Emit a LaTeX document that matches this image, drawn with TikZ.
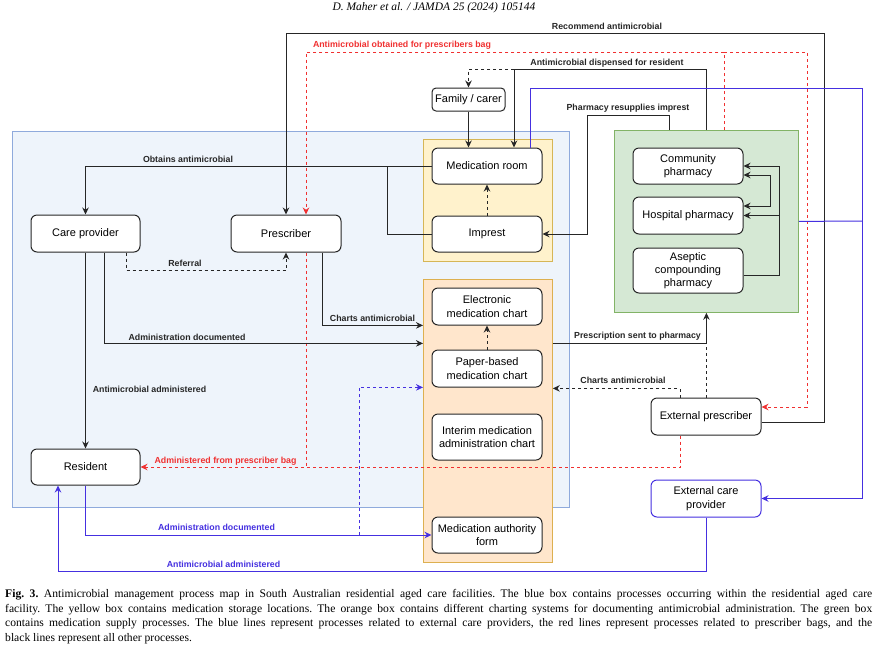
\documentclass[tikz,border=0pt]{standalone}
\usepackage{fontspec}
\setmainfont{Liberation Serif}
\newfontfamily\dsans{Liberation Sans}
\usetikzlibrary{arrows.meta}
\definecolor{bluefill}{HTML}{EEF4FB}
\definecolor{blueedge}{HTML}{8FAADC}
\definecolor{yelfill}{HTML}{FFF2CC}
\definecolor{yeledge}{HTML}{D6B656}
\definecolor{orfill}{HTML}{FFE6CC}
\definecolor{oredge}{HTML}{DDB050}
\definecolor{grfill}{HTML}{D5E8D4}
\definecolor{gredge}{HTML}{82B366}
\definecolor{redl}{HTML}{F03030}
\definecolor{bluel}{HTML}{4530E0}
\definecolor{blkl}{HTML}{262626}
\newcommand{\ndfont}{\dsans\fontsize{11}{13.3}\selectfont}
\newcommand{\lblfont}{\dsans\bfseries\fontsize{8.8}{10}\selectfont}
\newcommand{\capfont}{\frenchspacing\fontsize{11.6}{14.8}\selectfont}
\newcommand{\hdfont}{\itshape\fontsize{11.5}{13}\selectfont}
\begin{document}
\begin{tikzpicture}[x=1pt,y=-1pt,
  container/.style={draw, line width=0.8, inner sep=0, anchor=north west},
  pbox/.style={draw=blkl, fill=white, rounded corners=6, line width=1.0, align=center, inner sep=1, font=\ndfont, text=black, minimum width=110, minimum height=37},
  lbl/.style={font=\lblfont, inner sep=0, text=blkl},
  ln/.style={draw=blkl, line width=1.0},
  dsh/.style={draw=blkl, line width=1.0, dash pattern=on 3 off 3},
  rd/.style={draw=redl, line width=1.0, dash pattern=on 3 off 3},
  bl/.style={draw=bluel, line width=1.0},
  bldsh/.style={draw=bluel, line width=1.0, dash pattern=on 3 off 3},
  arr/.style={-{Stealth[length=7,width=6.5]}},
  arrtwo/.style={{Stealth[length=7,width=6.5]}-{Stealth[length=7,width=6.5]}}
]
\useasboundingbox (0,0) rectangle (877,649);
\fill[white] (0,0) rectangle (877,649);

% header
\node[font=\hdfont, inner sep=0] (header) at (434,8) {D. Maher et al. / JAMDA 25 (2024) 105144};

% containers
\node[container, draw=blueedge, fill=bluefill, minimum width=557, minimum height=376] (rac) at (12,131) {};
\node[container, draw=yeledge, fill=yelfill, minimum width=129, minimum height=122] (yellow) at (423,139) {};
\node[container, draw=oredge, fill=orfill, minimum width=129, minimum height=283] (orange) at (423,279) {};
\node[container, draw=gredge, fill=grfill, minimum width=184, minimum height=182] (green) at (614,130) {};

% nodes
\node[pbox, minimum width=109] (care) at (85.5,233.5) {Care provider};
\node[pbox] (presc) at (286,233.5) {Prescriber};
\node[pbox, minimum width=109, minimum height=36] (resid) at (85.5,467) {Resident};
\node[pbox, minimum width=73, minimum height=23, rounded corners=4] (family) at (468.5,99.5) {Family / carer};
\node[pbox, minimum height=36] (medroom) at (487,166) {Medication room};
\node[pbox, minimum height=36] (imprest) at (487,234) {Imprest};
\node[pbox] (elec) at (487,306.5) {Electronic\\medication chart};
\node[pbox] (paper) at (487,368.5) {Paper-based\\medication chart};
\node[pbox, minimum height=46] (interim) at (487,437) {Interim medication\\administration chart};
\node[pbox, minimum height=36] (authority) at (487,535) {Medication authority\\form};
\node[pbox, minimum height=36] (community) at (688,166) {Community\\pharmacy};
\node[pbox] (hospital) at (688,215.5) {Hospital pharmacy};
\node[pbox, minimum height=45] (aseptic) at (688,270.5) {Aseptic\\compounding\\pharmacy};
\node[pbox] (extpresc) at (706,416.5) {External prescriber};
\node[pbox, draw=bluel] (extcare) at (706,498.5) {External care\\provider};

% recommend antimicrobial
\draw[ln,arr] ([yshift=-5.5]extpresc.east) -| (824,33) -| (presc.north);
\node[lbl] (l1) at (607,26) {Recommend antimicrobial};

% prescriber bag (red)
\draw[rd,arr] ([xshift=18]green.north) |- (306,52) -- ([xshift=20]presc.north);
\draw[rd,arr] (724,52) -| (807,407) -- ([yshift=9.5]extpresc.east);
\node[lbl, text=redl] (l2) at (402,45) {Antimicrobial obtained for prescribers bag};
\draw[rd,arr] ([xshift=-26]extpresc.south) |- (resid.east);
\draw[rd] ([xshift=20]presc.south) -- (306,467);
\node[lbl, text=redl] (l3) at (225.5,461) {Administered from prescriber bag};

% dispensed
\draw[ln,arr] (green.north) |- (514,69) -- ([xshift=27]medroom.north);
\draw[dsh,arr] (514,69) -| (family.north);
\draw[ln,arr] (family.south) -- ([xshift=-18.5]medroom.north);
\node[lbl] (l4) at (607,63) {Antimicrobial dispensed for resident};

% resupplies
\draw[ln,arr] ([xshift=-37]green.north) |- (587,115) |- (imprest.east);
\node[lbl] (l5) at (628,108) {Pharmacy resupplies imprest};

% blue external care provider
\draw[bl,arr] ([xshift=43]medroom.north) |- (862,88) |- (extcare.east);
\draw[bl] (green.east) -- (862,221);

% obtains
\draw[ln,arr] (medroom.west) -| (care.north);
\draw[ln] (imprest.west) -| (387,166);
\node[lbl] (l6) at (188,159) {Obtains antimicrobial};

% referral
\draw[dsh,arr] ([xshift=40.5]care.south) |- (286,270) -- (presc.south);
\node[lbl] (l7) at (185,263) {Referral};

% charts antimicrobial (left)
\draw[ln,arr] ([xshift=36]presc.south) |- ([yshift=95.5]orange.west);
\node[lbl] (l8) at (372.5,318) {Charts antimicrobial};

% administration documented (black)
\draw[ln,arr] ([xshift=18.5]care.south) |- ([yshift=77.5]orange.west);
\node[lbl] (l9) at (187,337) {Administration documented};

% antimicrobial administered (black)
\draw[ln,arr] (care.south) -- (resid.north);
\node[lbl] (l10) at (149.5,389) {Antimicrobial administered};

% prescription sent to pharmacy
\draw[ln,arr] ([yshift=77.5]orange.east) -| (green.south);
\draw[dsh] (extpresc.north) -- (706,343);
\node[lbl] (l11) at (637.5,336) {Prescription sent to pharmacy};

% charts antimicrobial (right)
\draw[dsh,arr] ([xshift=-26]extpresc.north) |- ([yshift=32.5]orange.east);
\node[lbl] (l12) at (623,380) {Charts antimicrobial};

% blue administration documented
\draw[bl,arr] (resid.south) |- (authority.west);
\draw[bldsh,arr] (359,535) |- ([yshift=33.5]orange.west);
\node[lbl, text=bluel] (l13) at (216.5,527) {Administration documented};

% blue antimicrobial administered
\draw[bl,arr] (extcare.south) |- (58,571) -- ([xshift=-27.5]resid.south);
\node[lbl, text=bluel] (l14) at (223.5,564) {Antimicrobial administered};

% internal dotted
\draw[dsh,arr] (imprest.north) -- (medroom.south);
\draw[dsh,arr] (paper.north) -- (elec.south);

% pharmacies
\draw[ln,arr] ([yshift=-4.5]aseptic.east) -| (779,166) -- (community.east);
\draw[ln,arr] (779,215.5) -- (hospital.east);
\draw[ln,arrtwo] ([yshift=-9]community.east) -| (770,206) -- ([yshift=9.5]hospital.east);

% caption
\node[anchor=north west, inner sep=0, align=left, font=\capfont] (caption) at (5,589) {%
\makebox[867pt][s]{\textbf{Fig. 3.} Antimicrobial management process map in South Australian residential aged care facilities. The blue box contains processes occurring within the residential aged care}\\
\makebox[867pt][s]{facility. The yellow box contains medication storage locations. The orange box contains different charting systems for documenting antimicrobial administration. The green box}\\
\makebox[867pt][s]{contains medication supply processes. The blue lines represent processes related to external care providers, the red lines represent processes related to prescriber bags, and the}\\
black lines represent all other processes.};
\end{tikzpicture}
\end{document}
